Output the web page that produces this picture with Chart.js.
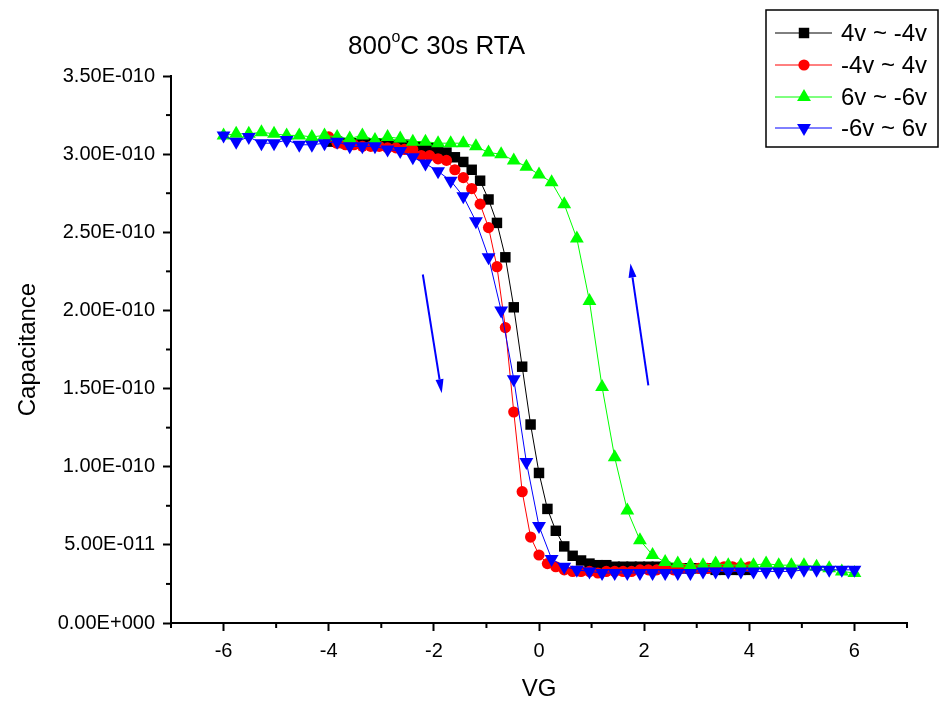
<!DOCTYPE html>
<html>
<head>
<meta charset="utf-8">
<title>800°C 30s RTA</title>
<script src="https://cdn.jsdelivr.net/npm/chart.js@4.4.1/dist/chart.umd.min.js"></script>
<style>
  body { margin: 0; background: #fff; }
  #wrap { width: 942px; height: 705px; }
</style>
</head>
<body>
<div id="wrap"><canvas id="cvChart" width="942" height="705"></canvas></div>
<script>
// VG sweep points (V)
const vgNarrow = [-4, -3.84, -3.68, -3.52, -3.36, -3.2, -3.04, -2.88, -2.72, -2.56,
  -2.4, -2.24, -2.08, -1.92, -1.76, -1.6, -1.44, -1.28, -1.12, -0.96,
  -0.8, -0.64, -0.48, -0.32, -0.16, 0, 0.16, 0.32, 0.48, 0.64,
  0.8, 0.96, 1.12, 1.28, 1.44, 1.6, 1.76, 1.92, 2.08, 2.24,
  2.4, 2.56, 2.72, 2.88, 3.04, 3.2, 3.36, 3.52, 3.68, 3.84, 4];
const vgWide = [-6, -5.76, -5.52, -5.28, -5.04, -4.8, -4.56, -4.32, -4.08, -3.84,
  -3.6, -3.36, -3.12, -2.88, -2.64, -2.4, -2.16, -1.92, -1.68, -1.44,
  -1.2, -0.96, -0.72, -0.48, -0.24, 0, 0.24, 0.48, 0.72, 0.96,
  1.2, 1.44, 1.68, 1.92, 2.16, 2.4, 2.64, 2.88, 3.12, 3.36,
  3.6, 3.84, 4.08, 4.32, 4.56, 4.8, 5.04, 5.28, 5.52, 5.76, 6];

// capacitance in units of 1E-010
const cap4toM4 = [3.08, 3.08, 3.07, 3.07, 3.07, 3.07, 3.07, 3.06, 3.06, 3.06,
  3.05, 3.05, 3.04, 3.03, 3.01, 2.98, 2.95, 2.90, 2.83, 2.71,
  2.56, 2.34, 2.02, 1.64, 1.27, 0.96, 0.73, 0.59, 0.49, 0.43,
  0.40, 0.38, 0.37, 0.37, 0.36, 0.36, 0.36, 0.36, 0.36, 0.36,
  0.36, 0.35, 0.35, 0.35, 0.35, 0.35, 0.34, 0.34, 0.34, 0.34, 0.34];
const capM4to4 = [3.11, 3.07, 3.06, 3.06, 3.05, 3.05, 3.05, 3.04, 3.04, 3.03,
  3.03, 2.99, 2.99, 2.97, 2.96, 2.90, 2.85, 2.78, 2.68, 2.53,
  2.28, 1.89, 1.35, 0.84, 0.55, 0.435, 0.38, 0.36, 0.34, 0.33,
  0.33, 0.33, 0.32, 0.33, 0.33, 0.33, 0.33, 0.34, 0.34, 0.34,
  0.34, 0.34, 0.35, 0.35, 0.35, 0.35, 0.35, 0.36, 0.36, 0.36, 0.36];
const cap6toM6 = [3.12, 3.13, 3.13, 3.14, 3.13, 3.12, 3.12, 3.11, 3.12, 3.11,
  3.10, 3.12, 3.09, 3.11, 3.10, 3.08, 3.08, 3.07, 3.07, 3.07,
  3.05, 3.01, 3.00, 2.96, 2.92, 2.87, 2.82, 2.68, 2.46, 2.06,
  1.51, 1.06, 0.72, 0.53, 0.435, 0.39, 0.38, 0.37, 0.37, 0.38,
  0.37, 0.37, 0.37, 0.38, 0.37, 0.37, 0.37, 0.36, 0.35, 0.33, 0.32];
const capM6to6 = [3.12, 3.08, 3.11, 3.07, 3.07, 3.09, 3.06, 3.06, 3.07, 3.08,
  3.05, 3.05, 3.05, 3.03, 3.02, 2.98, 2.94, 2.89, 2.83, 2.73,
  2.57, 2.34, 2.00, 1.56, 1.03, 0.62, 0.41, 0.36, 0.34, 0.33,
  0.32, 0.32, 0.32, 0.32, 0.32, 0.32, 0.32, 0.32, 0.33, 0.33,
  0.33, 0.33, 0.33, 0.33, 0.33, 0.33, 0.34, 0.34, 0.34, 0.34, 0.34];

const seriesNames = ['4v ~ -4v', '-4v ~ 4v', '6v ~ -6v', '-6v ~ 6v'];
const seriesColors = ['#000000', '#ff0000', '#00ff00', '#0000ff'];
const seriesMarkers = ['rect', 'circle', 'triangle', 'triangle'];
const seriesRotation = [0, 0, 0, 180];
const seriesRadius = [7.4, 5.6, 8, 8];

// the two sweep-direction arrows, [VG, C]
const arrowTails = [[-2.21, 2.23], [2.08, 1.52]];
const arrowTips = [[-1.85, 1.47], [1.74, 2.30]];

const FONT = "'Liberation Sans', Arial, sans-serif";

// Origin style: 3.50E-010
function sciLabel(v) {
  if (v === 0) return '0.00E+000';
  let e = Math.floor(Math.log10(Math.abs(v)));
  let m = v / Math.pow(10, e);
  if (Math.abs(m) >= 9.995) { m = m / 10; e++; }
  return m.toFixed(2) + 'E' + (e < 0 ? '-' : '+') + String(Math.abs(e)).padStart(3, '0');
}

function drawMarker(ctx, style, x, y, r, rot) {
  ctx.beginPath();
  if (style === 'rect') {
    const s = Math.SQRT1_2 * r;
    ctx.rect(x - s, y - s, 2 * s, 2 * s);
  } else if (style === 'circle') {
    ctx.arc(x, y, r, 0, Math.PI * 2);
  } else {
    let a = rot * Math.PI / 180;
    ctx.moveTo(x + Math.sin(a) * r, y - Math.cos(a) * r);
    for (let k = 0; k < 2; k++) {
      a += Math.PI * 2 / 3;
      ctx.lineTo(x + Math.sin(a) * r, y - Math.cos(a) * r);
    }
    ctx.closePath();
  }
  ctx.fill();
}

const extras = {
  id: 'extras',
  afterDraw(chart) {
    const ctx = chart.ctx;
    const xs = chart.scales.x, ys = chart.scales.y;
    ctx.save();

    // minor ticks
    ctx.strokeStyle = '#000';
    ctx.lineWidth = 2;
    xs.ticks.forEach(t => {
      if (Math.abs(t.value % 2) === 1) {
        const px = xs.getPixelForValue(t.value);
        ctx.beginPath(); ctx.moveTo(px, xs.top); ctx.lineTo(px, xs.top + 5); ctx.stroke();
      }
    });
    ys.ticks.forEach(t => {
      if (Math.round(t.value * 100) % 50 !== 0) {
        const py = ys.getPixelForValue(t.value);
        ctx.beginPath(); ctx.moveTo(ys.right - 5, py); ctx.lineTo(ys.right, py); ctx.stroke();
      }
    });

    // arrows
    ctx.strokeStyle = '#0000ff';
    ctx.fillStyle = '#0000ff';
    arrowTails.forEach((tail, i) => {
      const x0 = xs.getPixelForValue(tail[0]), y0 = ys.getPixelForValue(tail[1]);
      const x1 = xs.getPixelForValue(arrowTips[i][0]), y1 = ys.getPixelForValue(arrowTips[i][1]);
      const ang = Math.atan2(y1 - y0, x1 - x0);
      const hl = 14, hw = 4;
      const bx = x1 - hl * Math.cos(ang), by = y1 - hl * Math.sin(ang);
      ctx.lineWidth = 2;
      ctx.beginPath(); ctx.moveTo(x0, y0); ctx.lineTo(bx, by); ctx.stroke();
      ctx.beginPath();
      ctx.moveTo(x1, y1);
      ctx.lineTo(bx + hw * Math.sin(ang), by - hw * Math.cos(ang));
      ctx.lineTo(bx - hw * Math.sin(ang), by + hw * Math.cos(ang));
      ctx.closePath();
      ctx.fill();
    });

    // title with superscript o
    ctx.fillStyle = '#000';
    ctx.textBaseline = 'middle';
    ctx.textAlign = 'left';
    let tx = 348;
    ctx.font = '26px ' + FONT;
    ctx.fillText('800', tx, 47);
    tx += ctx.measureText('800').width;
    ctx.font = '16px ' + FONT;
    ctx.fillText('o', tx, 38);
    tx += ctx.measureText('o').width;
    ctx.font = '26px ' + FONT;
    ctx.fillText('C 30s RTA', tx, 47);

    // legend
    ctx.lineWidth = 1.5;
    ctx.strokeStyle = '#000';
    ctx.strokeRect(766, 10, 172, 137);
    const rows = [33, 65, 97, 128];
    ctx.font = '24px ' + FONT;
    seriesNames.forEach((name, i) => {
      const ry = rows[i];
      ctx.strokeStyle = seriesColors[i];
      ctx.fillStyle = seriesColors[i];
      ctx.lineWidth = 1;
      ctx.beginPath(); ctx.moveTo(775, ry); ctx.lineTo(832, ry); ctx.stroke();
      drawMarker(ctx, seriesMarkers[i], 804, ry, seriesRadius[i], seriesRotation[i]);
      ctx.fillStyle = '#000';
      ctx.fillText(name, 841, ry + 1);
    });
    ctx.restore();
  }
};

const allX = [vgNarrow, vgNarrow, vgWide, vgWide];
const allC = [cap4toM4, capM4to4, cap6toM6, capM6to6];
// Origin draws the later plots on top
const drawOrder = [3, 2, 1, 0];

const datasets = seriesNames.map((name, i) => ({
  label: name,
  data: allX[i].map((v, k) => ({ x: v, y: allC[i][k] })),
  showLine: true,
  borderColor: seriesColors[i],
  backgroundColor: seriesColors[i],
  borderWidth: 1,
  pointStyle: seriesMarkers[i],
  pointRotation: seriesRotation[i],
  pointRadius: seriesRadius[i],
  pointBorderWidth: 0,
  order: drawOrder[i]
}));

new Chart(document.getElementById('cvChart'), {
  type: 'scatter',
  data: { datasets: datasets },
  options: {
    responsive: false,
    animation: false,
    events: [],
    layout: { padding: { top: 76, right: 35, left: 0, bottom: 0 } },
    plugins: { legend: { display: false }, title: { display: false }, tooltip: { enabled: false } },
    scales: {
      x: {
        type: 'linear',
        min: -7, max: 7,
        afterFit: s => { s.height = 82; },
        border: { display: true, color: '#000', width: 2 },
        grid: {
          drawOnChartArea: false,
          tickLength: 8,
          tickWidth: 2,
          tickColor: c => (Math.abs(c.tick.value % 2) === 0 ? '#000' : 'rgba(0,0,0,0)')
        },
        ticks: {
          stepSize: 1,
          autoSkip: false,
          maxRotation: 0,
          padding: 8,
          color: '#000',
          font: { family: FONT, size: 20 },
          callback: v => (Math.abs(v % 2) === 0 ? String(v) : '')
        },
        title: { display: true, text: 'VG', color: '#000', font: { family: FONT, size: 24 }, padding: { top: 0, bottom: 1 } }
      },
      y: {
        type: 'linear',
        min: 0, max: 3.5,
        afterFit: s => { s.width = 171; },
        border: { display: true, color: '#000', width: 2 },
        grid: {
          drawOnChartArea: false,
          tickLength: 8,
          tickWidth: 2,
          tickColor: c => (Math.round(c.tick.value * 100) % 50 === 0 ? '#000' : 'rgba(0,0,0,0)')
        },
        ticks: {
          stepSize: 0.25,
          autoSkip: false,
          padding: 8,
          color: '#000',
          font: { family: FONT, size: 20 },
          callback: v => (Math.round(v * 100) % 50 === 0 ? sciLabel(v * 1e-10) : '')
        },
        title: { display: true, text: 'Capacitance', color: '#000', font: { family: FONT, size: 24 }, padding: { top: 14, bottom: 0 } }
      }
    }
  },
  plugins: [extras]
});
</script>
</body>
</html>
